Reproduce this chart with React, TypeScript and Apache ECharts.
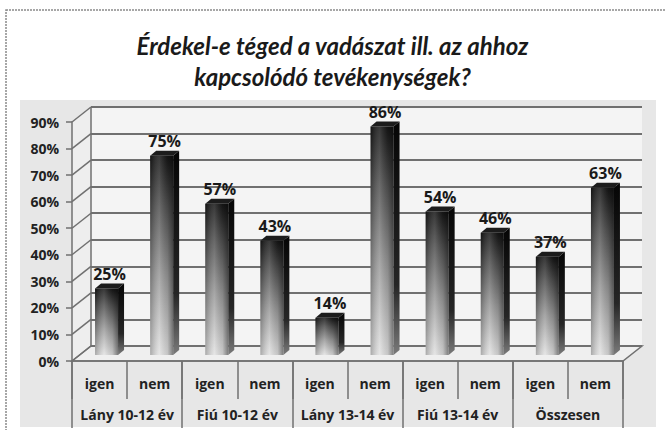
import React, { useEffect, useRef } from "react";
import * as echarts from "echarts";

const groups = ["Lány 10-12 év", "Fiú 10-12 év", "Lány 13-14 év", "Fiú 13-14 év", "Összesen"];
const answers = ["igen", "nem", "igen", "nem", "igen", "nem", "igen", "nem", "igen", "nem"];
const values = [25, 75, 57, 43, 14, 86, 54, 46, 37, 63];
const yTicks = [0, 10, 20, 30, 40, 50, 60, 70, 80, 90];
const titleText = "Érdekel-e téged a vadászat ill. az ahhoz\nkapcsolódó tevékenységek?";

const W = 665;
const H = 430;
const FL = 72; // front grid left
const FR = 623; // front grid right
const FT = 122; // front top
const FB = 361; // front bottom
const DX = 19;
const DY = 15;
const FONT = "'Open Sans', sans-serif";

export default function App() {
  const ref = useRef<HTMLDivElement>(null);
  useEffect(() => {
    if (!ref.current) return;
    const chart = echarts.init(ref.current, undefined, { renderer: "svg" });
    const gridColor = "#707070";
    const option: any = {
      animation: false,
      backgroundColor: "#ffffff",
      title: {
        text: titleText,
        left: "center",
        top: 25,
        textStyle: {
          fontFamily: "Lato, sans-serif",
          fontStyle: "italic",
          fontWeight: "bold",
          fontSize: 24,
          lineHeight: 31,
          color: "#1a1a1a",
        },
      },
      graphic: [
        {
          type: "rect",
          silent: true,
          z: -10,
          shape: { x: 6, y: 10, width: 720, height: 500 },
          style: { fill: "#ffffff", stroke: "#8a8a8a", lineWidth: 1.5, lineDash: [2, 1] },
        },
        {
          type: "rect",
          silent: true,
          z: -9,
          shape: { x: 20, y: 100, width: 636, height: 327 },
          style: { fill: "#e7e7e7" },
        },
        {
          type: "rect",
          silent: true,
          z: -8,
          shape: { x: FL + DX, y: FT - DY, width: FR - FL, height: FB - FT },
          style: { fill: "#f4f4f4" },
        },
        {
          type: "polygon",
          silent: true,
          z: -8,
          shape: { points: [[FL, FT], [FL + DX, FT - DY], [FL + DX, FB - DY], [FL, FB]] },
          style: { fill: "#eeeeee" },
        },
        {
          type: "polygon",
          silent: true,
          z: -8,
          shape: { points: [[FL, FB], [FL + DX, FB - DY], [FR + DX, FB - DY], [FR, FB]] },
          style: { fill: "#efefef", stroke: gridColor, lineWidth: 1.5 },
        },
        {
          type: "line",
          silent: true,
          z: -7,
          shape: { x1: FL + DX, y1: FT - DY, x2: FL + DX, y2: FB - DY },
          style: { stroke: gridColor, lineWidth: 1.5 },
        },
      ],
      grid: [
        { left: FL, right: W - FR, top: FT, bottom: H - FB },
        { left: FL + DX, right: W - FR - DX, top: FT - DY, bottom: H - FB + DY },
      ],
      xAxis: [
        {
          type: "category",
          gridIndex: 0,
          data: answers,
          axisLine: { show: true, lineStyle: { color: gridColor, width: 1.5 } },
          axisTick: { show: true, length: 38, lineStyle: { color: gridColor, width: 1.5 } },
          axisLabel: {
            interval: 0,
            margin: 15,
            fontFamily: FONT,
            fontWeight: "bold",
            fontSize: 14,
            color: "#222",
          },
        },
        {
          type: "category",
          gridIndex: 0,
          position: "bottom",
          data: groups,
          axisLine: { show: false },
          axisTick: { show: true, length: 67, lineStyle: { color: gridColor, width: 1.5 } },
          axisLabel: {
            interval: 0,
            margin: 46,
            fontFamily: FONT,
            fontWeight: "bold",
            fontSize: 14,
            color: "#222",
          },
        },
        {
          type: "category",
          gridIndex: 1,
          data: answers,
          show: false,
        },
      ],
      yAxis: [
        {
          type: "value",
          gridIndex: 0,
          min: 0,
          max: 90,
          interval: 10,
          axisLine: { show: true, lineStyle: { color: gridColor, width: 1.5 } },
          axisTick: { show: true, length: 6, lineStyle: { color: gridColor, width: 1.5 } },
          splitLine: { show: false },
          axisLabel: {
            formatter: "{value}%",
            margin: 13,
            fontFamily: FONT,
            fontWeight: "bold",
            fontSize: 14,
            color: "#222",
          },
        },
        {
          type: "value",
          gridIndex: 1,
          min: 0,
          max: 90,
          interval: 10,
          axisLine: { show: false },
          axisTick: { show: false },
          axisLabel: { show: false },
          splitLine: { show: true, lineStyle: { color: gridColor, width: 2 } },
        },
      ],
      series: [
        {
          type: "custom",
          xAxisIndex: 0,
          yAxisIndex: 0,
          silent: true,
          z: 1,
          data: yTicks.map((t) => [0, t]),
          renderItem: (params: any, api: any) => {
            const p = api.coord([0, api.value(1)]);
            const x0 = params.coordSys.x;
            return {
              type: "line",
              shape: { x1: x0, y1: p[1], x2: x0 + DX, y2: p[1] - DY },
              style: { stroke: gridColor, lineWidth: 1.5 },
            };
          },
        },
        {
          type: "custom",
          xAxisIndex: 0,
          yAxisIndex: 0,
          z: 5,
          data: values.map((v, i) => [i, v]),
          renderItem: (params: any, api: any) => {
            const i = api.value(0);
            const v = api.value(1);
            const base = api.coord([i, 0]);
            const topP = api.coord([i, v]);
            const cx = base[0] + 7;
            const w = 23;
            const L = cx - w / 2;
            const R = cx + w / 2;
            const top = topP[1] - 6;
            const bot = base[1] - 6;
            const sd = 6;
            const su = 5;
            return {
              type: "group",
              children: [
                {
                  type: "rect",
                  shape: { x: L, y: top, width: w, height: bot - top },
                  style: {
                    fill: new echarts.graphic.LinearGradient(0, 0, 0, 1, [
                      { offset: 0, color: "#161616" },
                      { offset: 0.25, color: "#505050" },
                      { offset: 0.6, color: "#999999" },
                      { offset: 1, color: "#e2e2e2" },
                    ]),
                  },
                },
                {
                  type: "rect",
                  shape: { x: L, y: top, width: w, height: bot - top },
                  style: {
                    fill: new echarts.graphic.LinearGradient(0, 0, 1, 0, [
                      { offset: 0, color: "rgba(0,0,0,0.25)" },
                      { offset: 0.4, color: "rgba(255,255,255,0.15)" },
                      { offset: 0.75, color: "rgba(0,0,0,0.12)" },
                      { offset: 1, color: "rgba(0,0,0,0.45)" },
                    ]),
                  },
                },
                {
                  type: "polygon",
                  shape: { points: [[R, top], [R + sd, top - su], [R + sd, bot - su], [R, bot]] },
                  style: {
                    fill: new echarts.graphic.LinearGradient(0, 0, 0, 1, [
                      { offset: 0, color: "#050505" },
                      { offset: 0.7, color: "#262626" },
                      { offset: 1, color: "#7a7a7a" },
                    ]),
                  },
                },
                {
                  type: "polygon",
                  shape: { points: [[L, top], [R, top], [R + sd, top - su], [L + sd, top - su]] },
                  style: { fill: "#1c1c1c" },
                },
                {
                  type: "text",
                  style: {
                    text: v + "%",
                    x: cx + 3,
                    y: top - su - 2,
                    align: "center",
                    verticalAlign: "bottom",
                    font: "bold 16px " + FONT,
                    fill: "#1a1a1a",
                  },
                },
              ],
            };
          },
        },
      ],
    };
    chart.setOption(option);
    return () => chart.dispose();
  }, []);
  return <div ref={ref} style={{ position: "fixed", left: 0, top: 0, width: W, height: H }} />;
}
